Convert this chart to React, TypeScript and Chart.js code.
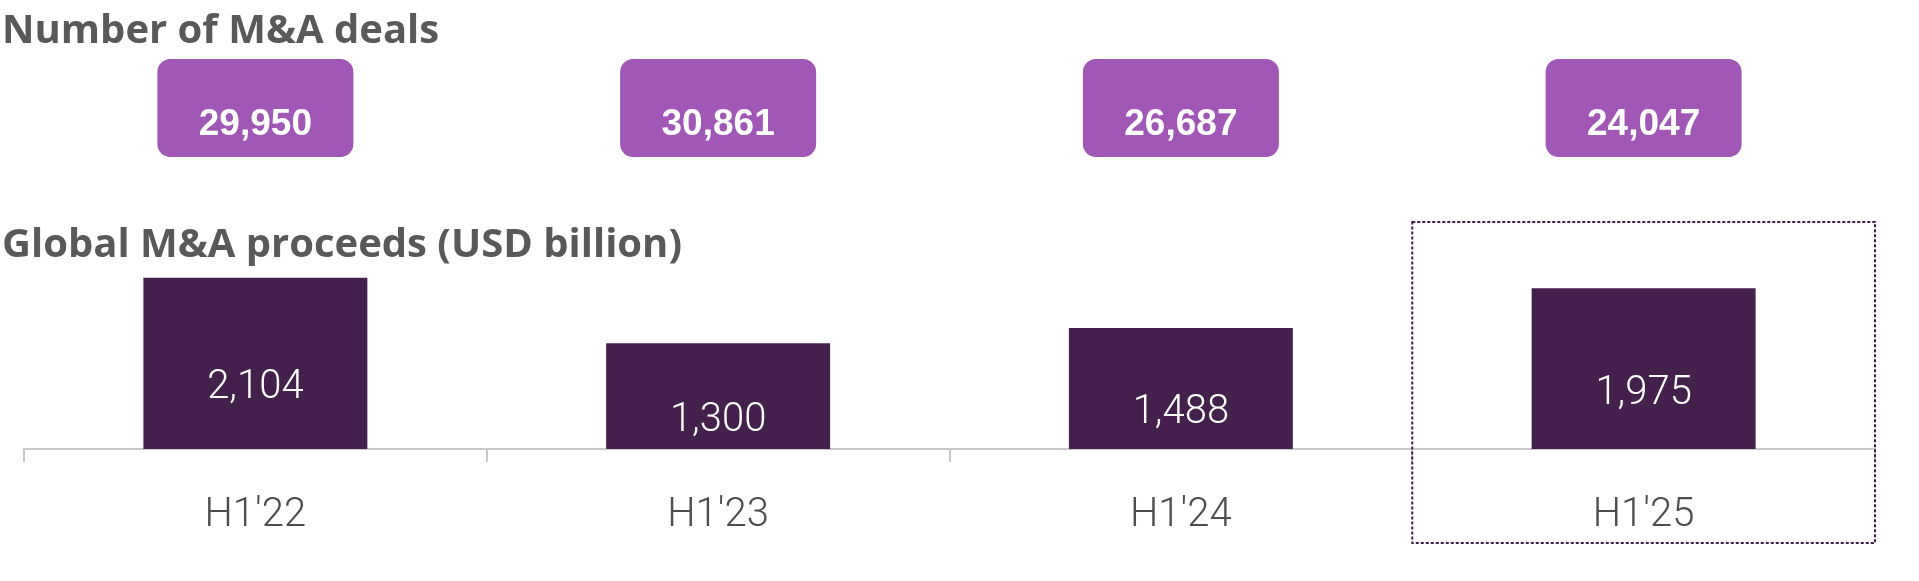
import React, { useEffect, useRef } from "react";
import { Chart, registerables } from "chart.js";

Chart.register(...registerables);

const categories = ["H1'22", "H1'23", "H1'24", "H1'25"];
const proceeds = [2104, 1300, 1488, 1975];
const dealCounts = [29950, 30861, 26687, 24047];
const dealsTitle = "Number of M&A deals";
const proceedsTitle = "Global M&A proceeds (USD billion)";
const highlightIndex = 3;

const fmt = (v: number) => v.toLocaleString("en-US");

const overlayPlugin = {
  id: "overlay",
  afterDraw(chart: any) {
    const ctx: CanvasRenderingContext2D = chart.ctx;
    const xs = chart.scales.x;
    const area = chart.chartArea;
    ctx.save();

    // section titles
    ctx.fillStyle = "#595959";
    ctx.textAlign = "left";
    ctx.textBaseline = "alphabetic";
    ctx.font = "bold 40px 'Open Sans', 'Noto Sans', sans-serif";
    ctx.fillText(dealsTitle, 2, 43);
    ctx.fillText(proceedsTitle, 2, 257);

    // deal count boxes
    dealCounts.forEach((v, i) => {
      const cx = xs.getPixelForValue(i);
      ctx.fillStyle = "#A057B5";
      ctx.beginPath();
      (ctx as any).roundRect(cx - 98, 59, 196, 98, 13);
      ctx.fill();
      ctx.fillStyle = "#ffffff";
      ctx.textAlign = "center";
      ctx.font = "bold 37px 'Liberation Sans', Arial, sans-serif";
      ctx.fillText(fmt(v), cx, 135);
    });

    // bar value labels
    const meta = chart.getDatasetMeta(0);
    meta.data.forEach((el: any, i: number) => {
      const mid = (el.y + el.base) / 2;
      ctx.fillStyle = "#ffffff";
      ctx.textAlign = "center";
      ctx.font = "300 40px Roboto, sans-serif";
      ctx.fillText(fmt(proceeds[i]), el.x, mid + 35);
    });

    // dashed highlight box around last category
    const left =
      (xs.getPixelForValue(highlightIndex - 1) + xs.getPixelForValue(highlightIndex)) / 2;
    ctx.strokeStyle = "#3E1F48";
    ctx.lineWidth = 2;
    ctx.setLineDash([3, 2]);
    ctx.strokeRect(left, 222, area.right - left, 321);
    ctx.restore();
  },
};

export default function App() {
  const ref = useRef<HTMLCanvasElement | null>(null);

  useEffect(() => {
    document.body.style.margin = "0";
    const canvas = ref.current;
    if (!canvas) return;
    const chart = new Chart(canvas, {
      type: "bar",
      data: {
        labels: categories,
        datasets: [
          {
            data: proceeds,
            backgroundColor: "#44214D",
            borderWidth: 0,
            categoryPercentage: 1,
            barPercentage: 0.484,
          },
        ],
      },
      options: {
        responsive: false,
        animation: false,
        events: [],
        devicePixelRatio: 1,
        layout: { padding: { left: 24, right: 44, top: 205, bottom: 42 } },
        plugins: {
          legend: { display: false },
          tooltip: { enabled: false },
          title: { display: false },
        },
        scales: {
          x: {
            offset: true,
            grid: {
              display: true,
              drawOnChartArea: false,
              drawTicks: true,
              tickLength: 13,
              color: "#C8C8C8",
              lineWidth: 2,
              offset: true,
            },
            border: { display: true, color: "#C8C8C8", width: 2 },
            ticks: {
              color: "#4D4D4D",
              padding: 30,
              font: { family: "Roboto, sans-serif", size: 40, weight: "300" as any },
            },
            afterFit: (s: any) => {
              s.height = 90;
            },
          },
          y: {
            display: false,
            min: 0,
            max: 3000,
          },
        },
      },
      plugins: [overlayPlugin],
    });
    return () => chart.destroy();
  }, []);

  return (
    <div style={{ width: 1919, height: 581, background: "#ffffff" }}>
      <canvas ref={ref} width={1919} height={581} style={{ display: "block" }} />
    </div>
  );
}
